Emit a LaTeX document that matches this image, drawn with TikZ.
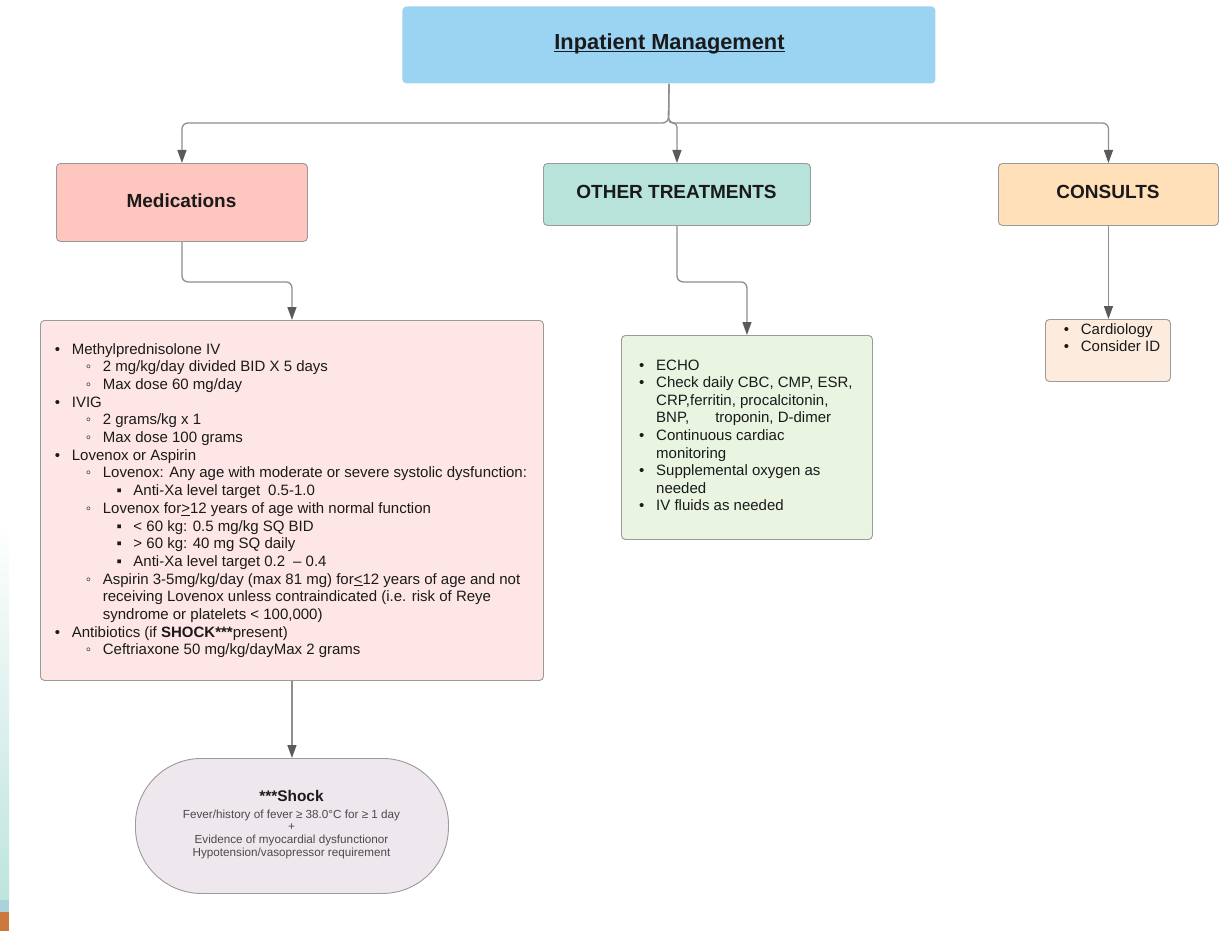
\documentclass[tikz,border=0pt]{standalone}
\usepackage{fontspec}
\setmainfont{Liberation Sans}
\usetikzlibrary{arrows.meta}

\definecolor{topblue}{HTML}{9BD3F3}
\definecolor{medhead}{HTML}{FFC5BF}
\definecolor{othhead}{HTML}{B8E3DA}
\definecolor{conhead}{HTML}{FFE0B9}
\definecolor{medbody}{HTML}{FDE6E5}
\definecolor{othbody}{HTML}{E9F4E1}
\definecolor{conbody}{HTML}{FDECDD}
\definecolor{shockfill}{HTML}{EFE7EE}
\definecolor{edge}{HTML}{9A9A9A}
\definecolor{wire}{HTML}{8E8E8E}
\definecolor{tipgray}{HTML}{5A5A5A}
\definecolor{ink}{HTML}{1A1A1A}
\definecolor{note}{HTML}{4A4A4A}
\definecolor{stripteal}{HTML}{BEE4DE}
\definecolor{stripblue}{HTML}{A9D2DC}
\definecolor{striporange}{HTML}{CD783C}

% bullets for the three list levels
\newcommand\bA{•}
\newcommand\bB{◦}
\newcommand\bC{▪}
% underline that sits just below the baseline
\newcommand\ulbar[1]{\sbox0{#1}\rlap{\rule[-2.5pt]{\wd0}{1.5pt}}\usebox0}

\tikzset{
  box/.style={draw=edge, line width=0.9pt, rounded corners=4pt, inner sep=0pt, anchor=north west},
  head/.style={font=\bfseries\fontsize{19}{22}\selectfont, text=ink, anchor=base, inner sep=0pt},
  body/.style={font=\fontsize{15}{17.7}\selectfont, text=ink, anchor=base west, inner sep=0pt},
  small/.style={font=\fontsize{11.7}{13.4}\selectfont, text=note, anchor=base, inner sep=0pt},
  conn/.style={draw=wire, line width=1.3pt, rounded corners=6pt,
    -{Triangle[length=13pt,width=9pt,color=tipgray]}},
}

% one list line: name, base position, bullet, text
\newcommand\li[4]{\node[body] (#1) at (#2) {\llap{\makebox[17pt][l]{#3}}#4};}

\begin{document}
\begin{tikzpicture}[x=1pt,y=-1pt]
\useasboundingbox (0,0) rectangle (1226,931);

% thin coloured strip on the left edge
\shade[top color=white, bottom color=stripteal] (0,520) rectangle (9,900);
\fill[stripblue] (0,900) rectangle (9,912);
\fill[striporange] (0,912) rectangle (9,931);

% boxes
\node[box, draw=none, fill=topblue, minimum width=533pt, minimum height=77pt] (top) at (402,6) {};
\node[box, fill=medhead, minimum width=251pt, minimum height=78pt] (medh) at (56,163) {};
\node[box, fill=othhead, minimum width=267pt, minimum height=62pt] (othh) at (543,163) {};
\node[box, fill=conhead, minimum width=220pt, minimum height=62pt] (conh) at (998,163) {};
\node[box, fill=medbody, minimum width=503pt, minimum height=360pt] (medd) at (40,320) {};
\node[box, fill=othbody, minimum width=251pt, minimum height=204pt] (othd) at (621,335) {};
\node[box, fill=conbody, minimum width=125pt, minimum height=62pt] (cond) at (1045,319) {};
\node[box, fill=shockfill, rounded corners=66pt, minimum width=313pt, minimum height=135pt] (shock) at (135,758) {};

% headings
\node[head, font=\bfseries\fontsize{21.8}{24}\selectfont] (toplabel) at (669.5,50) {\ulbar{Inpatient Management}};
\node[head] (medlabel) at (181.5,207) {Medications};
\node[head] (othlabel) at (676.5,198) {OTHER TREATMENTS};
\node[head] (conlabel) at (1108,198) {CONSULTS};

% connectors
\coordinate (hub) at (668.5,123);
\draw[conn] (top.south) -- (hub) -| (medh.north);
\draw[conn, rounded corners=4pt] (top.south) -- (hub) -| (othh.north);
\draw[conn] (top.south) -- (hub) -| (conh.north);
\draw[conn] (medh.south) -- ++(0,40) -| (medd.north);
\draw[conn] (othh.south) -- ++(0,56) -| (othd.north);
\draw[conn] (conh.south) -- (conh.south |- cond.north);
\draw[conn] (medd.south) -- (shock.north);

% medications list
\li{m0}{71.7,354.0}{\bA}{Methylprednisolone IV}
\li{m1}{102.7,371.7}{\bB}{2 mg/kg/day divided BID X 5 days}
\li{m2}{102.7,389.4}{\bB}{Max dose 60 mg/day}
\li{m3}{71.7,407.1}{\bA}{IVIG}
\li{m4}{102.7,424.8}{\bB}{2 grams/kg x 1}
\li{m5}{102.7,442.5}{\bB}{Max dose 100 grams}
\li{m6}{71.7,460.2}{\bA}{Lovenox or Aspirin}
\li{m7}{102.7,477.9}{\bB}{Lovenox: Any age with moderate or severe systolic dysfunction:}
\li{m8}{133.3,495.6}{\bC}{Anti-Xa level target\hspace{8pt}0.5-1.0}
\li{m9}{102.7,513.3}{\bB}{Lovenox for\underline{>}12 years of age with normal function}
\li{m10}{133.3,531.0}{\bC}{< 60 kg: 0.5 mg/kg SQ BID}
\li{m11}{133.3,548.7}{\bC}{> 60 kg: 40 mg SQ daily}
\li{m12}{133.3,566.4}{\bC}{Anti-Xa level target 0.2\hspace{8pt}– 0.4}
\li{m13}{102.7,584.1}{\bB}{Aspirin 3-5mg/kg/day (max 81 mg) for\underline{<}12 years of age and not}
\li{m14}{102.7,601.8}{}{receiving Lovenox unless contraindicated (i.e. risk of Reye}
\li{m15}{102.7,619.5}{}{syndrome or platelets < 100,000)}
\li{m16}{71.7,637.2}{\bA}{Antibiotics (if \textbf{SHOCK***}present)}
\li{m17}{102.7,654.9}{\bB}{Ceftriaxone 50 mg/kg/dayMax 2 grams}

% other treatments list
\li{o0}{656,370.0}{\bA}{ECHO}
\li{o1}{656,387.6}{\bA}{Check daily CBC, CMP, ESR,}
\li{o2}{656,405.2}{}{CRP,ferritin, procalcitonin,}
\li{o3}{656,422.8}{}{BNP,\hspace{26pt}troponin, D-dimer}
\li{o4}{656,440.4}{\bA}{Continuous cardiac}
\li{o5}{656,458.0}{}{monitoring}
\li{o6}{656,475.6}{\bA}{Supplemental oxygen as}
\li{o7}{656,493.2}{}{needed}
\li{o8}{656,510.8}{\bA}{IV fluids as needed}

% consults list
\li{c0}{1080.7,334.3}{\bA}{Cardiology}
\li{c1}{1080.7,351.7}{\bA}{Consider ID}

% shock definition
\node[head, font=\bfseries\fontsize{15.4}{18}\selectfont] (s0) at (291.5,801.7) {***Shock};
\node[small] (s1) at (291.5,818.3) {Fever/history of fever ≥ 38.0°C for ≥ 1 day};
\node[small] (s2) at (291.5,830.5) {+};
\node[small] (s3) at (291.5,843.3) {Evidence of myocardial dysfunctionor};
\node[small] (s4) at (291.5,856.7) {Hypotension/vasopressor requirement};
\end{tikzpicture}
\end{document}
